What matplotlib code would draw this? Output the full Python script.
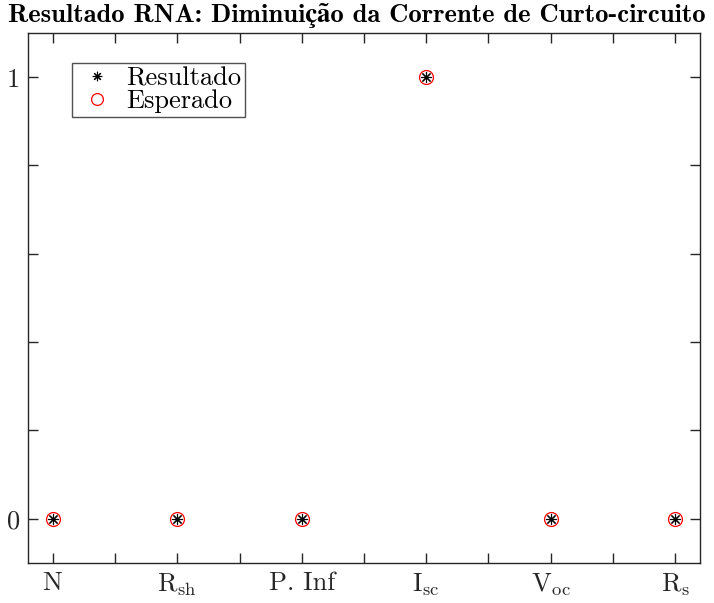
import matplotlib
matplotlib.use('Agg')
import matplotlib.pyplot as plt
import numpy as np

# Dados
categorias = [r'$\mathrm{N}$', r'$\mathrm{R}_{\mathrm{sh}}$', 'P. Inf',
              r'$\mathrm{I}_{\mathrm{sc}}$', r'$\mathrm{V}_{\mathrm{oc}}$', r'$\mathrm{R}_{\mathrm{s}}$']
resultado = [0, 0, 0, 1, 0, 0]
esperado = [0, 0, 0, 1, 0, 0]

plt.rcParams['mathtext.fontset'] = 'cm'
plt.rcParams['font.family'] = ['cmr10', 'STIXGeneral']
plt.rcParams['axes.unicode_minus'] = False

cinza = '#262626'

fig = plt.figure(figsize=(7.14, 6.03), dpi=100)
ax = fig.add_axes([28/714, 1 - 563/603, 672/714, 530/603])

x = np.arange(1, len(categorias) + 1)

ax.plot(x, esperado, linestyle='none', marker='o', markersize=10,
        markerfacecolor='none', markeredgecolor='red', markeredgewidth=0.9, label='Esperado')
ax.plot(x, resultado, linestyle='none', marker=(8, 2, 0), markersize=8,
        color='black', markeredgewidth=0.8, label='Resultado')

ax.set_xlim(0.8, 6.2)
ax.set_ylim(-0.1, 1.1)

ticks_x = np.arange(1, 6.01, 0.5)
ax.set_xticks(ticks_x)
ax.set_xticklabels([categorias[int(t) - 1] if t == int(t) else '' for t in ticks_x])
ax.set_yticks([0, 0.2, 0.4, 0.6, 0.8, 1.0])
ax.set_yticklabels(['0', '', '', '', '', '1'])

ax.tick_params(direction='in', length=7, width=1, colors=cinza, labelsize=19,
               top=True, right=True, pad=6)
for s in ax.spines.values():
    s.set_color(cinza)
    s.set_linewidth(1)

fig.text(0.5, 1 - 22/603, 'Resultado RNA: Diminuição da Corrente de Curto-circuito',
         fontsize=19.2, fontweight='bold', family=['cmb10', 'STIXGeneral'],
         color='black', ha='center', va='baseline')

h, l = ax.get_legend_handles_labels()
leg = ax.legend([h[1], h[0]], [l[1], l[0]], loc='upper left',
                bbox_to_anchor=(44/672, (563 - 63)/530), fontsize=19, frameon=True,
                fancybox=False, edgecolor=cinza, handlelength=1.6,
                handletextpad=0.3, borderpad=0.15, labelspacing=-0.05,
                borderaxespad=0, markerscale=0.85)
leg.get_frame().set_linewidth(1)

fig.savefig('out.png', dpi=100)
